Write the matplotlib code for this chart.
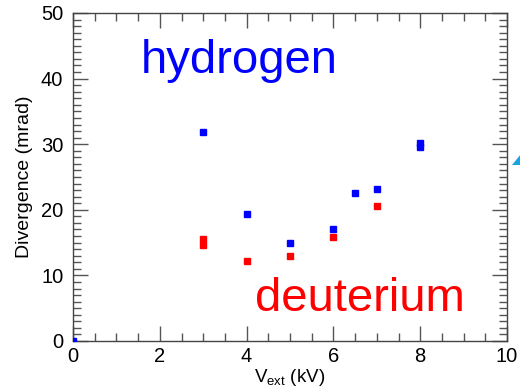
import matplotlib
matplotlib.use("Agg")
import matplotlib.pyplot as plt
from matplotlib.patches import Polygon
from matplotlib.ticker import MultipleLocator

plt.rcParams['font.family'] = ['Liberation Sans', 'DejaVu Sans']

# Extraction voltage (kV) and beam divergence (mrad)
h_voltage = [0, 3, 4, 5, 6, 6.5, 7, 8, 8]
h_divergence = [0, 31.9, 19.3, 15.0, 17.1, 22.5, 23.2, 30.2, 29.5]

d_voltage = [3, 3, 4, 5, 6, 7]
d_divergence = [15.5, 14.7, 12.2, 12.9, 15.9, 20.6]

x_ticks = [0, 2, 4, 6, 8, 10]
y_ticks = [0, 10, 20, 30, 40, 50]

fig = plt.figure(figsize=(5.2, 3.89), dpi=100)
ax = fig.add_axes([0.1404, 0.1234, 0.8346, 0.8432])

ax.plot(h_voltage, h_divergence, ls='none', marker='s', ms=5.0,
        color='#0000ff', mec='#0000ff', zorder=3)
ax.plot(d_voltage, d_divergence, ls='none', marker='s', ms=5.0,
        color='#ff0000', mec='#ff0000', zorder=3)

ax.set_xlim(0, 10)
ax.set_ylim(0, 50)
ax.set_xticks(x_ticks)
ax.set_yticks(y_ticks)
ax.xaxis.set_minor_locator(MultipleLocator(0.5))
ax.yaxis.set_minor_locator(MultipleLocator(1))

ax.tick_params(which='both', direction='in', top=True, right=True,
               color='#555555', width=1.0)
ax.tick_params(which='major', length=11, labelsize=14.5)
ax.tick_params(axis='x', which='major', pad=4)
ax.tick_params(axis='y', which='major', pad=7)
ax.tick_params(which='minor', length=5.5)
for sp in ax.spines.values():
    sp.set_color('#444444')
    sp.set_linewidth(1.0)

ax.set_xlabel(r'V$_{\mathregular{ext}}$ (kV)', fontsize=13.5, labelpad=1)
ax.set_ylabel('Divergence (mrad)', fontsize=14, labelpad=6)

ax.text(1.55, 40.8, 'hydrogen', color='#0000ff', fontsize=34,
        ha='left', va='baseline')
ax.text(4.2, 4.5, 'deuterium', color='#ff0000', fontsize=34,
        ha='left', va='baseline')

# Edge of a pointer arrow at the right margin
tri = Polygon([[512, 389 - 165], [521, 389 - 165], [521, 389 - 154]],
              closed=True, transform=None, facecolor='#1aa3dc',
              edgecolor='none')
fig.patches.append(tri)

fig.savefig('out.png', dpi=100)
